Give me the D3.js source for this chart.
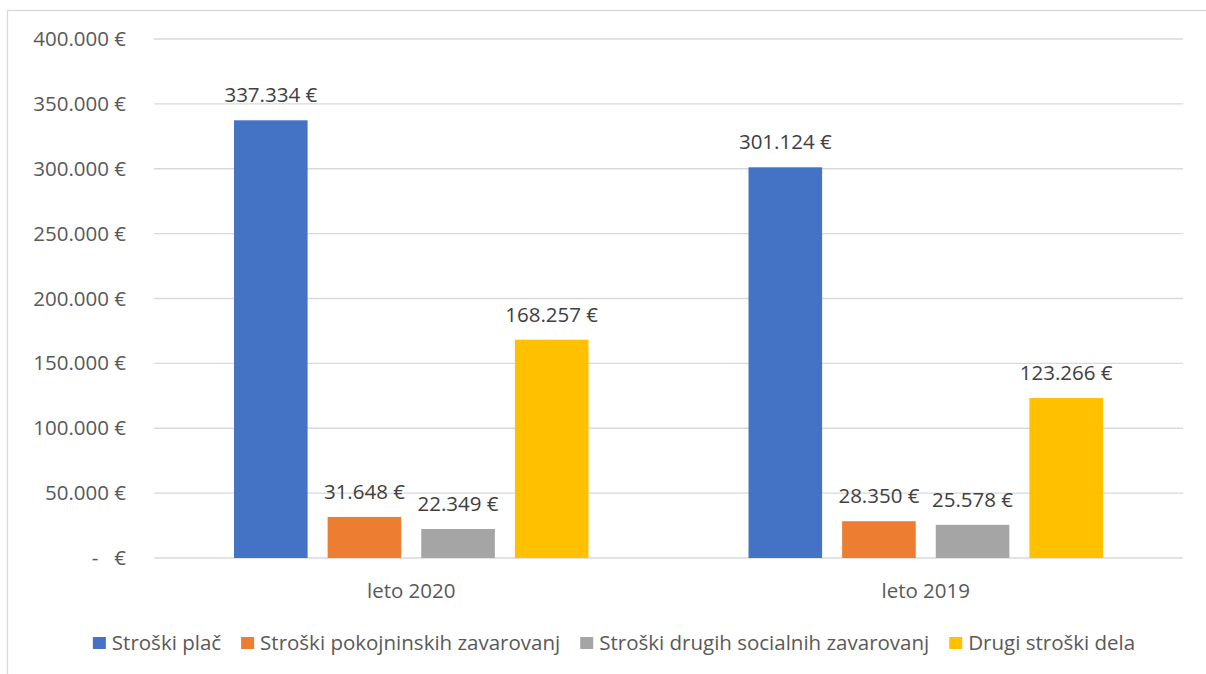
<!DOCTYPE html>
<html>
<head>
<meta charset="utf-8">
<script src="https://cdn.jsdelivr.net/npm/d3@7"></script>
<style>
    body { margin: 0; background: #fff; }
    svg { font-family: 'Open Sans', sans-serif; }
    text { white-space: pre; }
</style>
</head>
<body>
<div id="chart"></div>
<script>
// data
const categories = ['leto 2020', 'leto 2019'];
const series = ['Stroški plač', 'Stroški pokojninskih zavarovanj', 'Stroški drugih socialnih zavarovanj', 'Drugi stroški dela'];
const values2020 = [337334, 31648, 22349, 168257];
const values2019 = [301124, 28350, 25578, 123266];
const yTicks = [0, 50000, 100000, 150000, 200000, 250000, 300000, 350000, 400000];
const colors = ['#4472C4', '#ED7D31', '#A5A5A5', '#FFC000'];

const valuesByCategory = [values2020, values2019];

// set dimensions
const w = 1206;
const h = 674;
const plotLeft = 154;
const plotRight = 1183;
const plotTop = 39;
const plotBottom = 558;
const fontSize = '20.5px';

const locale = d3.formatLocale({ decimal: ',', thousands: '.', grouping: [3], currency: ['', ' €'] });
const fmt = locale.format(',.0f');
const euro = v => v === 0 ? '-   €' : fmt(v) + ' €';

const svg = d3.select('#chart')
    .append('svg')
    .attr('width', w)
    .attr('height', h);

// chart border
svg.append('rect')
    .attr('x', 7.5)
    .attr('y', 10.5)
    .attr('width', w + 20)
    .attr('height', h + 20)
    .attr('fill', 'none')
    .attr('stroke', '#d9d9d9')
    .attr('stroke-width', 1.3);

// scales
const x0 = d3.scaleBand()
    .domain(categories)
    .range([plotLeft, plotRight]);

const x1 = d3.scaleBand()
    .domain(series)
    .range([80, x0.bandwidth() - 80])
    .paddingInner(0.214);

const y = d3.scaleLinear()
    .domain([0, 400000])
    .range([plotBottom, plotTop]);

// gridlines
svg.append('g')
    .selectAll('line')
    .data(yTicks)
    .enter()
    .append('line')
    .attr('x1', plotLeft)
    .attr('x2', plotRight)
    .attr('y1', d => y(d))
    .attr('y2', d => y(d))
    .attr('stroke', '#d9d9d9')
    .attr('stroke-width', 1.3);

// y axis labels
const yAxis = d3.axisLeft(y)
    .tickValues(yTicks)
    .tickFormat(euro)
    .tickSize(0)
    .tickPadding(0);

svg.append('g')
    .attr('transform', 'translate(126, 0)')
    .call(yAxis)
    .call(g => g.select('.domain').remove())
    .call(g => g.selectAll('text')
        .attr('fill', '#595959')
        .style('font-size', fontSize)
        .style('font-family', "'Open Sans', sans-serif"));

// bars
const groups = svg.append('g')
    .selectAll('g')
    .data(categories)
    .enter()
    .append('g')
    .attr('transform', d => `translate(${x0(d)}, 0)`);

groups.selectAll('rect')
    .data((d, i) => valuesByCategory[i].map((v, j) => ({ s: series[j], v: v, c: colors[j] })))
    .enter()
    .append('rect')
    .attr('x', d => x1(d.s))
    .attr('y', d => y(d.v))
    .attr('width', x1.bandwidth())
    .attr('height', d => plotBottom - y(d.v))
    .attr('fill', d => d.c);

// data labels
groups.selectAll('text')
    .data((d, i) => valuesByCategory[i].map((v, j) => ({ s: series[j], v: v })))
    .enter()
    .append('text')
    .attr('x', d => x1(d.s) + x1.bandwidth() / 2)
    .attr('y', d => y(d.v) - 18)
    .attr('text-anchor', 'middle')
    .attr('fill', '#404040')
    .style('font-size', fontSize)
    .text(d => euro(d.v));

// x axis labels
svg.append('g')
    .selectAll('text')
    .data(categories)
    .enter()
    .append('text')
    .attr('x', d => x0(d) + x0.bandwidth() / 2)
    .attr('y', 591)
    .attr('dy', '0.35em')
    .attr('text-anchor', 'middle')
    .attr('fill', '#595959')
    .style('font-size', fontSize)
    .text(d => d);

// legend
const legend = svg.append('g');
const gap = 20;
let lx = 0;
series.forEach((s, i) => {
    const item = legend.append('g').attr('transform', `translate(${lx}, 0)`);
    item.append('rect')
        .attr('x', 0)
        .attr('y', 637)
        .attr('width', 13)
        .attr('height', 12)
        .attr('fill', colors[i]);
    const t = item.append('text')
        .attr('x', 19)
        .attr('y', 643)
        .attr('dy', '0.35em')
        .attr('fill', '#595959')
        .style('font-size', fontSize)
        .text(s);
    lx += 19 + t.node().getComputedTextLength() + gap;
});
const legendW = lx - gap;
legend.attr('transform', `translate(${(87 + 1141) / 2 - legendW / 2}, 0)`);
</script>
</body>
</html>
